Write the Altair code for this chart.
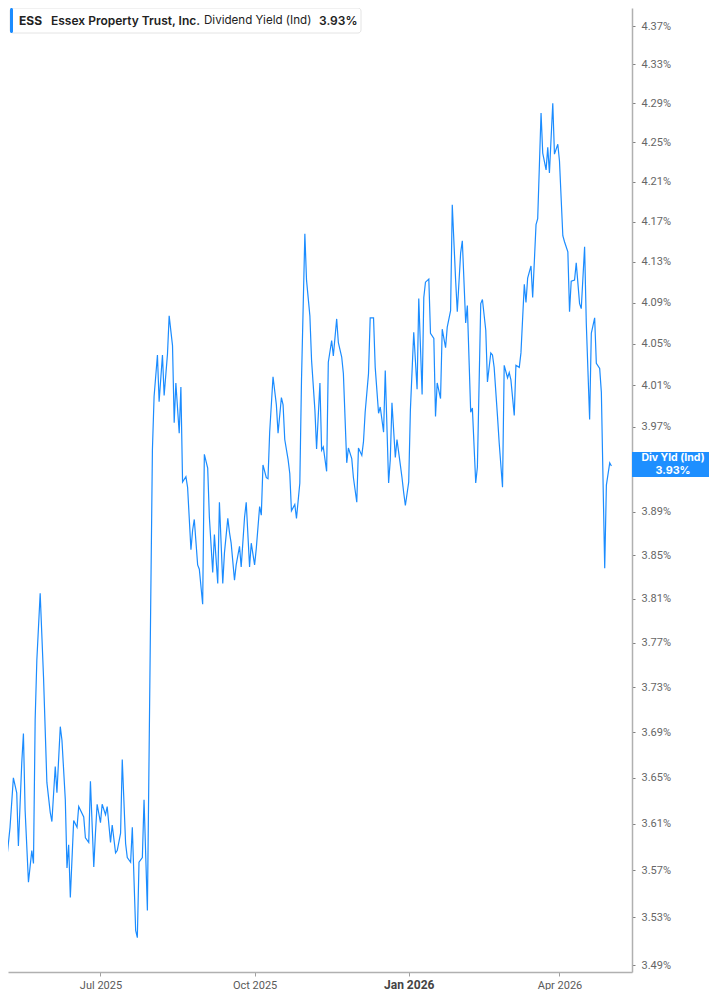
import altair as alt
import pandas as pd

# ---------------- data ----------------
start_date = "2025-05-02"
day_offsets = [0, 2, 4, 6, 8, 10, 11, 13, 14, 15, 17, 19, 20, 21, 22, 24, 26, 28, 30, 31,
               33, 34, 36, 37, 39, 40, 41, 42, 44, 46, 47, 50, 51, 53, 54, 56, 57, 58, 60, 61,
               63, 64, 66, 67, 69, 70, 72, 73, 75, 76, 78, 79, 81, 82, 83, 85, 86, 88, 90, 91,
               92, 94, 95, 97, 98, 100, 101, 103, 104, 105, 107, 108, 109, 111, 112, 114, 115, 116, 118, 119,
               121, 122, 124, 125, 127, 128, 130, 131, 133, 134, 136, 137, 138, 140, 141, 143, 144, 146, 147, 149,
               150, 152, 153, 155, 156, 157, 159, 160, 161, 163, 165, 166, 168, 169, 170, 172, 173, 174, 176, 177,
               179, 180, 182, 183, 185, 186, 188, 189, 191, 192, 193, 195, 196, 198, 199, 201, 202, 204, 205, 207,
               208, 210, 211, 213, 214, 216, 217, 218, 220, 221, 223, 224, 226, 227, 229, 230, 232, 233, 234, 236,
               237, 239, 240, 241, 242, 244, 245, 247, 249, 250, 252, 253, 254, 256, 257, 259, 260, 261, 263, 264,
               266, 267, 269, 270, 272, 273, 275, 276, 278, 279, 281, 282, 284, 285, 287, 288, 290, 291, 293, 294,
               295, 297, 298, 300, 301, 303, 304, 305, 307, 308, 310, 311, 313, 314, 315, 317, 318, 320, 321, 323,
               324, 326, 327, 328, 330, 331, 333, 334, 336, 337, 339, 340, 341, 343, 344, 346, 347, 349, 350, 352,
               353, 355, 356, 358, 359, 361, 362, 364, 365]
div_yield = [3.660, 3.511, 3.579, 3.607, 3.650, 3.637, 3.591, 3.663, 3.689, 3.622, 3.560, 3.587, 3.576, 3.701, 3.754, 3.815, 3.739, 3.646, 3.620, 3.612,
             3.660, 3.637, 3.695, 3.683, 3.631, 3.572, 3.592, 3.547, 3.613, 3.607, 3.625, 3.616, 3.598, 3.594, 3.647, 3.573, 3.602, 3.627, 3.611, 3.627,
             3.618, 3.625, 3.594, 3.609, 3.585, 3.587, 3.602, 3.666, 3.593, 3.581, 3.577, 3.607, 3.519, 3.513, 3.577, 3.581, 3.631, 3.536, 3.808, 3.948,
             3.999, 4.039, 3.994, 4.039, 4.000, 4.040, 4.077, 4.048, 3.974, 4.012, 3.964, 4.008, 3.918, 3.923, 3.913, 3.855, 3.873, 3.883, 3.841, 3.837,
             3.805, 3.944, 3.931, 3.885, 3.834, 3.869, 3.824, 3.899, 3.824, 3.852, 3.884, 3.871, 3.861, 3.827, 3.841, 3.858, 3.839, 3.885, 3.899, 3.839,
             3.861, 3.841, 3.856, 3.895, 3.887, 3.934, 3.922, 3.921, 3.965, 4.018, 3.991, 3.964, 3.998, 3.991, 3.958, 3.939, 3.926, 3.891, 3.897, 3.884,
             3.917, 4.015, 4.158, 4.112, 4.077, 4.034, 3.986, 3.949, 4.012, 3.948, 3.951, 3.928, 4.032, 4.053, 4.038, 4.074, 4.051, 4.037, 4.021, 3.936,
             3.950, 3.940, 3.922, 3.899, 3.950, 3.943, 3.956, 3.984, 4.021, 4.075, 4.075, 4.027, 3.983, 3.989, 3.965, 4.024, 3.917, 3.939, 3.993, 3.941,
             3.958, 3.934, 3.922, 3.908, 3.896, 3.918, 3.986, 4.061, 4.006, 4.094, 4.001, 4.095, 4.110, 4.113, 4.060, 4.055, 3.980, 4.012, 3.997, 4.064,
             4.046, 4.066, 4.082, 4.187, 4.112, 4.081, 4.139, 4.151, 4.070, 4.087, 3.984, 3.988, 3.917, 3.932, 4.089, 4.093, 4.063, 4.013, 4.041, 4.039,
             4.027, 3.980, 3.955, 3.913, 4.029, 4.017, 4.022, 4.015, 3.981, 4.029, 4.027, 4.041, 4.108, 4.090, 4.114, 4.126, 4.095, 4.167, 4.173, 4.280,
             4.239, 4.222, 4.245, 4.219, 4.290, 4.238, 4.248, 4.231, 4.156, 4.150, 4.140, 4.081, 4.111, 4.112, 4.129, 4.089, 4.084, 4.145, 4.070, 3.977,
             4.060, 4.075, 4.031, 4.026, 4.003, 3.838, 3.915, 3.936, 3.933]

y_ticks = [3.49, 3.53, 3.57, 3.61, 3.65, 3.69, 3.73, 3.77, 3.81, 3.85, 3.89, 3.93,
           3.97, 4.01, 4.05, 4.09, 4.13, 4.17, 4.21, 4.25, 4.29, 4.33, 4.37]
x_tick_dates = [(2025, 7, 1), (2025, 10, 1), (2026, 1, 1), (2026, 4, 1)]
legend_parts = ["ESS", "Essex Property Trust, Inc.", "Dividend Yield (Ind)", "3.93%"]
last_label = ["Div Yld (Ind)", "3.93%"]

BLUE = "#1b8cff"

dates = pd.Timestamp(start_date) + pd.to_timedelta(day_offsets, unit="D")
df = pd.DataFrame({"date": dates, "yield": div_yield})

x_domain = [alt.DateTime(year=2025, month=5, date=6, hours=19),
            alt.DateTime(year=2026, month=5, date=14, hours=7)]
x_vals = [alt.DateTime(year=y, month=m, date=d) for (y, m, d) in x_tick_dates]

is_jan = "month(datum.value) == 0"

line = alt.Chart(df).mark_line(color=BLUE, strokeWidth=1.2, clip=True).encode(
    x=alt.X("date:T",
            scale=alt.Scale(domain=x_domain),
            axis=alt.Axis(values=x_vals, format="%b %Y", title=None, grid=False,
                          domainColor="#b0b0b0", domainWidth=1.5,
                          tickColor="#a0a0a0", tickSize=4, labelPadding=3,
                          labelFont="Roboto",
                          labelFontSize={"condition": {"test": is_jan, "value": 12}, "value": 11},
                          labelFontWeight={"condition": {"test": is_jan, "value": "bold"}, "value": "normal"},
                          labelColor={"condition": {"test": is_jan, "value": "#444444"}, "value": "#5a5a5a"})),
    y=alt.Y("yield:Q",
            scale=alt.Scale(type="log", domain=[3.4842, 4.3889], nice=False, zero=False),
            axis=alt.Axis(orient="right", values=y_ticks, title=None, grid=False,
                          labelExpr="abs(datum.value - 3.93) < 0.001 ? '' : format(datum.value, '.2f') + '%'",
                          domainColor="#b0b0b0", domainWidth=1.5,
                          tickColor="#808080", tickSize=3, labelPadding=6,
                          labelFont="Roboto", labelFontSize=11, labelColor="#666666")),
)

one = pd.DataFrame({"k": [0]})
base = alt.Chart(one)

legend_box = base.mark_rect(fill="white", stroke="#e4e4e4", strokeWidth=1, cornerRadius=3).encode(
    x=alt.value(2), x2=alt.value(353), y=alt.value(0), y2=alt.value(25))
legend_bar = base.mark_rect(fill=BLUE, cornerRadius=1.5).encode(
    x=alt.value(2), x2=alt.value(5), y=alt.value(0), y2=alt.value(25))


def ltext(txt, x, weight, size):
    return base.mark_text(align="left", baseline="middle", font="Inter", fontSize=size,
                          fontWeight=weight, color="#222222").encode(
        x=alt.value(x), y=alt.value(13), text=alt.value(txt))


t1 = ltext(legend_parts[0], 11, "bold", 12)
t2 = ltext(legend_parts[1], 43, 600, 12)
t3 = ltext(legend_parts[2], 196, "normal", 11.6)
t4 = ltext(legend_parts[3], 311, 600, 12)

tag_box = base.mark_rect(fill="#1e8fff").encode(
    x=alt.value(624), x2=alt.value(701), y=alt.value(444), y2=alt.value(469))
tag1 = base.mark_text(align="center", baseline="middle", font="Inter", fontSize=10.5,
                      fontWeight="bold", color="white").encode(
    x=alt.value(665), y=alt.value(450), text=alt.value(last_label[0]))
tag2 = base.mark_text(align="center", baseline="middle", font="Inter", fontSize=10.8,
                      fontWeight="bold", color="white").encode(
    x=alt.value(665), y=alt.value(462.5), text=alt.value(last_label[1]))

chart = alt.layer(line, legend_box, legend_bar, t1, t2, t3, t4, tag_box, tag1, tag2).properties(
    width=624, height=964,
    autosize=alt.AutoSizeParams(type="none"),
    padding={"left": 0, "top": 0, "right": 77, "bottom": 18},
    background="white",
).configure_view(stroke=None)

chart.save("out.html", embed_options={"renderer": "svg", "actions": False})
